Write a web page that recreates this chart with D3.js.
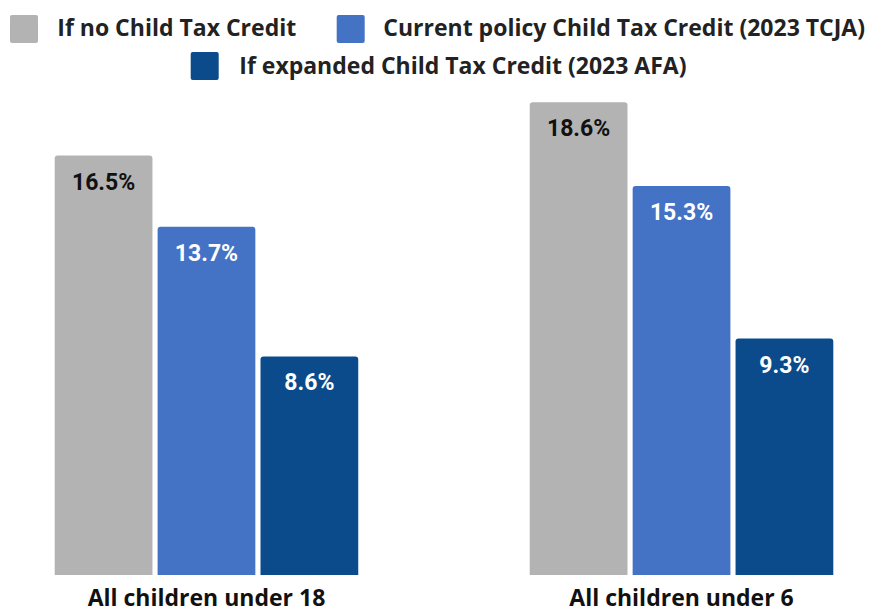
<!DOCTYPE html>
<html>
<head>
<meta charset="utf-8">
<script src="https://cdn.jsdelivr.net/npm/d3@7"></script>
<style>
  body { margin: 0; background: #fff; }
</style>
</head>
<body>
<div id="chart"></div>
<script>
const groups = ['All children under 18', 'All children under 6'];
const series = ['If no Child Tax Credit', 'Current policy Child Tax Credit (2023 TCJA)', 'If expanded Child Tax Credit (2023 AFA)'];
const noCredit = [16.5, 18.6];
const currentPolicy = [13.7, 15.3];
const expanded = [8.6, 9.3];
const colors = ['#b3b3b3', '#4472c4', '#0b4b8b'];
const labelColors = ['#111', '#fff', '#fff'];

const width = 880;
const height = 613;

const values = [noCredit, currentPolicy, expanded];
const data = [];
groups.forEach((g, gi) => {
  series.forEach((s, si) => {
    data.push({ group: g, series: s, si, value: values[si][gi] });
  });
});

const svg = d3.select('#chart')
  .append('svg')
  .attr('width', width)
  .attr('height', height);

const x0 = d3.scaleBand()
  .domain(groups)
  .range([54.7, 833.3])
  .paddingInner(0.361)
  .paddingOuter(0);

const x1 = d3.scaleBand()
  .domain(series)
  .range([0, x0.bandwidth()])
  .paddingInner(0.05);

const y = d3.scaleLinear()
  .domain([0, 20])
  .range([575, 575 - 20 * 25.42]);

const bars = svg.append('g')
  .selectAll('g')
  .data(data)
  .join('g')
  .attr('transform', d => `translate(${x0(d.group) + x1(d.series)},0)`);

bars.append('path')
  .attr('fill', d => colors[d.si])
  .attr('d', d => {
    const w = x1.bandwidth(), top = y(d.value), b = y(0), r = 3;
    return `M0,${b}V${top + r}Q0,${top} ${r},${top}H${w - r}Q${w},${top} ${w},${top + r}V${b}Z`;
  });

bars.append('text')
  .attr('x', x1.bandwidth() / 2)
  .attr('y', d => y(d.value) + 34)
  .attr('text-anchor', 'middle')
  .attr('font-family', 'Roboto, sans-serif')
  .attr('font-weight', 700)
  .attr('font-size', 23)
  .attr('fill', d => labelColors[d.si])
  .text(d => d.value.toFixed(1) + '%');

// category labels
const xAxis = svg.append('g')
  .attr('transform', `translate(0,575)`)
  .call(d3.axisBottom(x0).tickSize(0).tickPadding(0));
xAxis.select('.domain').remove();
xAxis.selectAll('text')
  .attr('dy', null)
  .attr('y', 31)
  .attr('font-family', '"Open Sans", sans-serif')
  .attr('font-weight', 700)
  .attr('font-size', 23)
  .attr('fill', '#111');

// legend
const legendPos = [
  { x: 10, y: 15, tx: 57.3, ty: 36 },
  { x: 336.7, y: 15, tx: 383.3, ty: 36 },
  { x: 190.7, y: 52, tx: 239.3, ty: 74 }
];
const legend = svg.append('g')
  .selectAll('g')
  .data(series)
  .join('g');
legend.append('rect')
  .attr('x', (d, i) => legendPos[i].x)
  .attr('y', (d, i) => legendPos[i].y)
  .attr('width', 28)
  .attr('height', 28)
  .attr('rx', 2)
  .attr('fill', (d, i) => colors[i]);
legend.append('text')
  .attr('x', (d, i) => legendPos[i].tx)
  .attr('y', (d, i) => legendPos[i].ty)
  .attr('font-family', '"Open Sans", sans-serif')
  .attr('font-weight', 700)
  .attr('font-size', 23)
  .attr('fill', '#222')
  .text(d => d);
</script>
</body>
</html>
